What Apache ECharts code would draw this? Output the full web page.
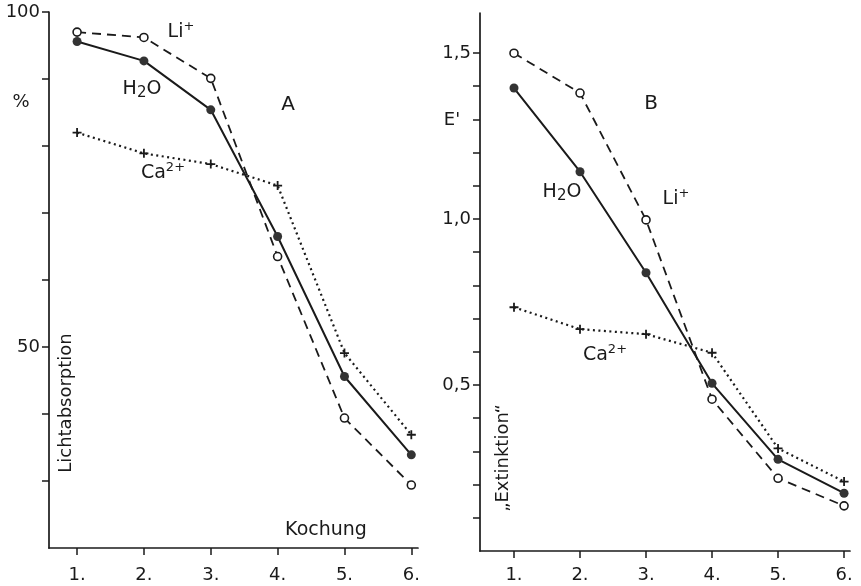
<!DOCTYPE html>
<html>
<head>
<meta charset="utf-8">
<script src="https://cdn.jsdelivr.net/npm/echarts@6/dist/echarts.min.js"></script>
<style>
html,body{margin:0;padding:0;background:#fff;}
#chart{width:861px;height:586px;}
</style>
</head>
<body>
<div id="chart"></div>
<script>
// ---- data ----
const kochung = [1, 2, 3, 4, 5, 6];
const kochungLabels = ['1.', '2.', '3.', '4.', '5.', '6.'];

// Panel A: Lichtabsorption (%)
const aLi  = [97.0, 96.2, 90.1, 63.5, 39.4, 29.4];
const aH2O = [95.6, 92.7, 85.4, 66.5, 45.6, 33.9];
const aCa  = [82.0, 78.9, 77.3, 74.1, 49.1, 36.9];

// Panel B: "Extinktion" E'
const bLi  = [1.499, 1.379, 0.997, 0.457, 0.219, 0.136];
const bH2O = [1.394, 1.142, 0.838, 0.505, 0.276, 0.174];
const bCa  = [0.734, 0.668, 0.653, 0.597, 0.309, 0.209];

const aYTicks  = [30, 40, 50, 60, 70, 80, 90, 100];
const aYLabels = [50, 100];
const bYTicks  = [0.1, 0.2, 0.3, 0.4, 0.5, 0.6, 0.7, 0.8, 0.9, 1.0, 1.1, 1.2, 1.3, 1.4, 1.5];
const bYLabels = [0.5, 1.0, 1.5];

// ---- styling ----
const INK = '#1a1a1a';
const FONT = 'DejaVu Sans';
const pair = arr => kochung.map((k, i) => [k, arr[i]]);
const plusPath = 'path://M4,0H6V4H10V6H6V10H4V6H0V4H4Z';

function xAxisCfg(gi, min, max, margin) {
  return {
    type: 'value', gridIndex: gi, min: min, max: max,
    splitLine: {show: false},
    axisLine: {show: true, lineStyle: {color: INK, width: 1.7}},
    axisTick: {show: true, length: 7, inside: false, customValues: kochung, lineStyle: {color: INK, width: 1.5}},
    axisLabel: {show: true, customValues: kochung, margin: margin, color: INK, fontFamily: FONT, fontSize: 18,
      formatter: v => kochungLabels[kochung.indexOf(Math.round(v))] || ''}
  };
}
function yAxisCfg(gi, min, max, ticks, labels, fmt) {
  return {
    type: 'value', gridIndex: gi, min: min, max: max,
    splitLine: {show: false},
    axisLine: {show: true, lineStyle: {color: INK, width: 1.7}},
    axisTick: {show: true, length: 7, customValues: ticks, lineStyle: {color: INK, width: 1.5}},
    axisLabel: {show: true, customValues: labels, margin: 9, color: INK, fontFamily: FONT, fontSize: 18, formatter: fmt}
  };
}
function seriesLi(xi, data) {
  return {type: 'line', xAxisIndex: xi, yAxisIndex: xi, data: pair(data), z: 3,
    lineStyle: {color: INK, width: 1.8, type: [9, 6]},
    symbol: 'circle', symbolSize: 8,
    itemStyle: {color: '#fff', borderColor: INK, borderWidth: 1.6}};
}
function seriesH2O(xi, data) {
  return {type: 'line', xAxisIndex: xi, yAxisIndex: xi, data: pair(data), z: 4,
    lineStyle: {color: INK, width: 2},
    symbol: 'circle', symbolSize: 9,
    itemStyle: {color: '#333', borderColor: '#333', borderWidth: 0}};
}
function seriesCa(xi, data) {
  return {type: 'line', xAxisIndex: xi, yAxisIndex: xi, data: pair(data), z: 2,
    lineStyle: {color: INK, width: 2.2, type: [2, 3.5]},
    symbol: plusPath, symbolSize: 9,
    itemStyle: {color: INK, borderWidth: 0}};
}

const baseRich = {
  n:   {fontFamily: FONT, fontSize: 19, lineHeight: 24, color: INK},
  sup: {fontFamily: FONT, fontSize: 13, lineHeight: 13, verticalAlign: 'top', color: INK},
  sub: {fontFamily: FONT, fontSize: 15, lineHeight: 14, verticalAlign: 'bottom', color: INK}
};
function label(x, y, text, opts) {
  opts = opts || {};
  return {type: 'text', x: x, y: y, rotation: opts.rotation || 0, z: 10,
    style: {text: text, rich: baseRich, fontFamily: FONT, fontSize: opts.fontSize || 18, fill: INK,
      align: opts.align || 'center', verticalAlign: 'middle'}};
}

const chart = echarts.init(document.getElementById('chart'), null, {renderer: 'canvas'});
chart.setOption({
  animation: false,
  backgroundColor: '#fff',
  grid: [
    {left: 49, top: 12, width: 369, height: 536, containLabel: false},
    {left: 480, top: 13, width: 370, height: 538, containLabel: false}
  ],
  xAxis: [xAxisCfg(0, 0.58, 6.1, 18), xAxisCfg(1, 0.485, 6.09, 15)],
  yAxis: [
    yAxisCfg(0, 20, 100, aYTicks, aYLabels, v => String(Math.round(v))),
    yAxisCfg(1, 0, 1.62, bYTicks, bYLabels, v => v.toFixed(1).replace('.', ','))
  ],
  series: [
    seriesCa(0, aCa), seriesLi(0, aLi), seriesH2O(0, aH2O),
    seriesCa(1, bCa), seriesLi(1, bLi), seriesH2O(1, bH2O)
  ],
  graphic: [
    label(21, 102, '%'),
    label(288, 105, 'A', {fontSize: 20}),
    label(181, 32, '{n|Li}{sup|+}'),
    label(142, 89, '{n|H}{sub|2}{n|O}'),
    label(163, 173, '{n|Ca}{sup|2+}'),
    label(326, 530, 'Kochung', {fontSize: 19}),
    label(66, 403, 'Lichtabsorption', {rotation: Math.PI / 2}),
    label(452, 120, "E'"),
    label(651, 104, 'B', {fontSize: 20}),
    label(562, 192, '{n|H}{sub|2}{n|O}'),
    label(676, 199, '{n|Li}{sup|+}'),
    label(605, 355, '{n|Ca}{sup|2+}'),
    label(503, 458, '„Extinktion“', {rotation: Math.PI / 2})
  ]
});
</script>
</body>
</html>
